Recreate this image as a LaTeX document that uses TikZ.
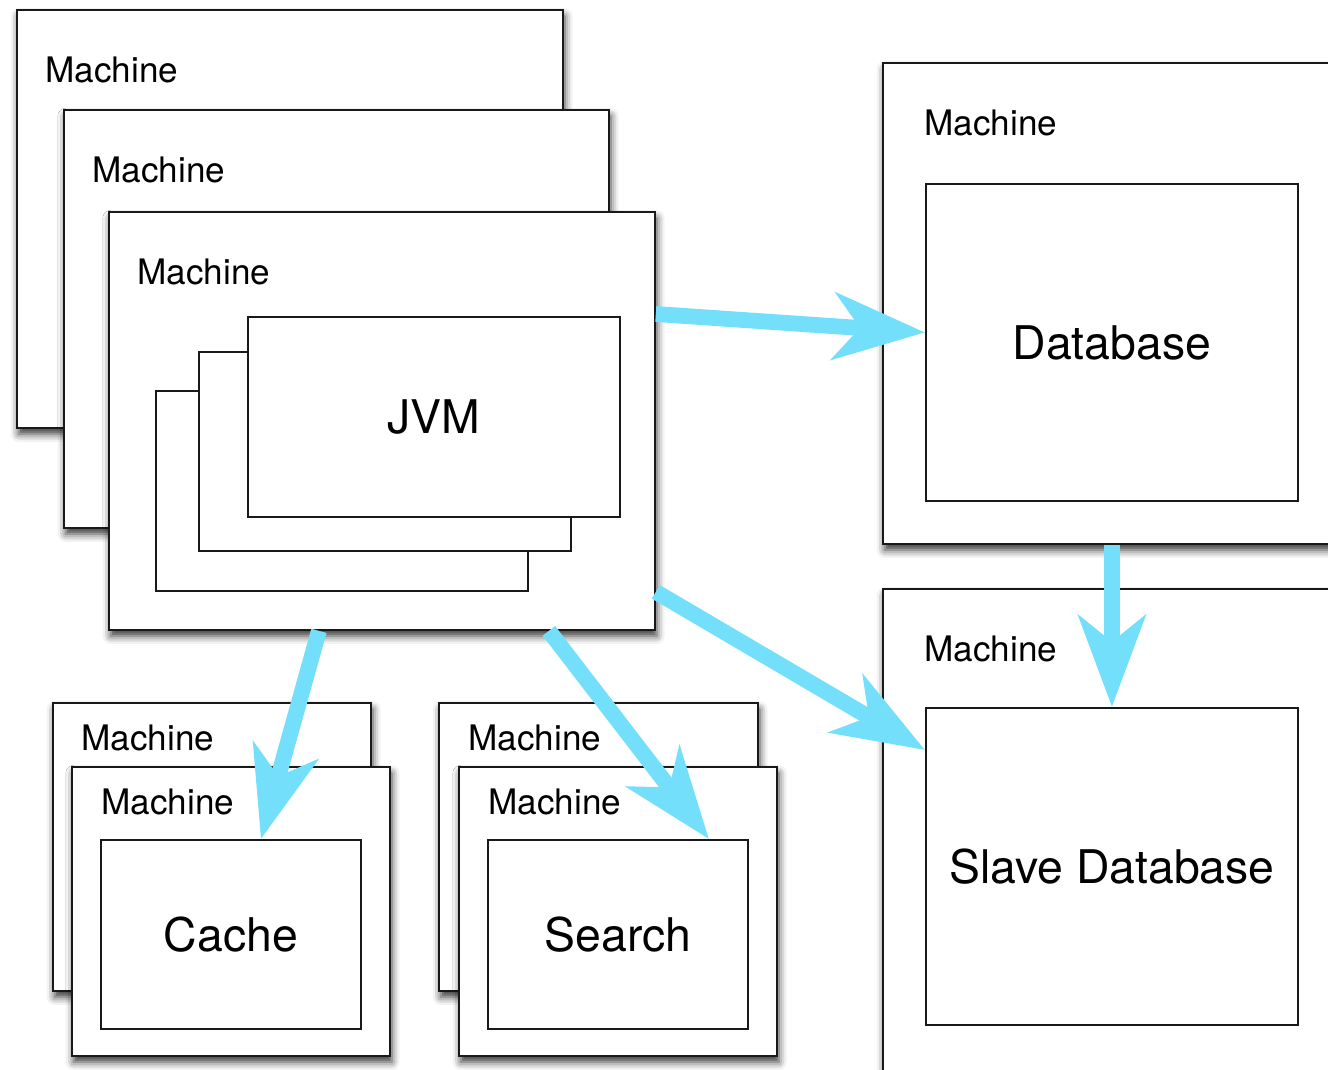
\documentclass[tikz,border=0pt]{standalone}
\usepackage{fontspec}
\setmainfont{TeX Gyre Heros}
\usetikzlibrary{arrows.meta,shadows.blur,calc}
\definecolor{arrowcyan}{RGB}{116,223,251}
\definecolor{boxline}{RGB}{25,25,25}
\begin{document}
\begin{tikzpicture}[x=0.02cm, y=-0.02cm,
  mach/.style={draw=boxline, line width=1.1pt, fill=white, anchor=north west, inner sep=0pt,
    blur shadow={shadow xshift=1pt, shadow yshift=-3.5pt, shadow blur radius=4.5pt, shadow opacity=80}},
  inbox/.style={draw=boxline, line width=1.1pt, fill=white, anchor=north west, inner sep=0pt,
    font=\fontsize{26.4}{31}\selectfont},
  small/.style={font=\fontsize{20}{24}\selectfont, anchor=base west, inner sep=0pt},
  flow/.style={draw=arrowcyan, line width=9pt,
    -{Stealth[length=52pt, width=38pt, inset=15pt, fill=arrowcyan]}}
]
\useasboundingbox (0,0) rectangle (1328,1069);
\clip (0,0) rectangle (1328,1069);

% left machine stack
\node[mach, minimum width=10.92cm, minimum height=8.36cm] (m1) at (16,9) {};
\node[small] (m1t) at (45,82) {Machine};
\node[mach, minimum width=10.90cm, minimum height=8.36cm] (m2) at (63,109) {};
\node[small] (m2t) at (92,182) {Machine};
\node[mach, minimum width=10.92cm, minimum height=8.36cm] (m3) at (108,211) {};
\node[small] (m3t) at (137,284) {Machine};

% JVM stack
\node[inbox, minimum width=7.44cm, minimum height=4.00cm] (jvm3) at (155,390) {};
\node[inbox, minimum width=7.44cm, minimum height=3.98cm] (jvm2) at (198,351) {};
\node[inbox, minimum width=7.44cm, minimum height=4.00cm] (jvm1) at (247,316) {JVM};

% database machine
\node[mach, minimum width=9.8cm, minimum height=9.62cm] (dbm) at (882,62) {};
\node[small] (dbmt) at (924,135) {Machine};
\node[inbox, minimum width=7.44cm, minimum height=6.34cm] (db) at (925,183) {Database};

% slave database machine
\node[mach, minimum width=9.8cm, minimum height=10.4cm] (sdbm) at (882,588) {};
\node[small] (sdbmt) at (924,661) {Machine};
\node[inbox, minimum width=7.44cm, minimum height=6.34cm] (sdb) at (925,707) {Slave Database};

% cache machines
\node[mach, minimum width=6.36cm, minimum height=5.76cm] (c2m) at (52,702) {};
\node[small] (c2mt) at (81,750) {Machine};
\node[mach, minimum width=6.36cm, minimum height=5.78cm] (c1m) at (71,766) {};
\node[small] (c1mt) at (101,814) {Machine};
\node[inbox, minimum width=5.20cm, minimum height=3.78cm] (cache) at (100,839) {Cache};

% search machines
\node[mach, minimum width=6.38cm, minimum height=5.76cm] (s2m) at (438,702) {};
\node[small] (s2mt) at (468,750) {Machine};
\node[mach, minimum width=6.36cm, minimum height=5.78cm] (s1m) at (458,766) {};
\node[small] (s1mt) at (488,814) {Machine};
\node[inbox, minimum width=5.20cm, minimum height=3.78cm] (search) at (487,839) {Search};

% connectors
\draw[flow] ([yshift=-2.06cm]m3.north east) -- ([yshift=0.2cm]db.west);
\draw[flow] (db.south |- dbm.south) -- (sdb.north);
\draw[flow] ([yshift=0.78cm]m3.south east) -- ([yshift=-0.86cm]sdb.north west);
\draw[flow] ([xshift=-1.26cm]m3.south) -- ([xshift=0.6cm]cache.north);
\draw[flow] ([xshift=3.34cm]m3.south) -- ([xshift=-0.8cm]search.north east);
\end{tikzpicture}
\end{document}
